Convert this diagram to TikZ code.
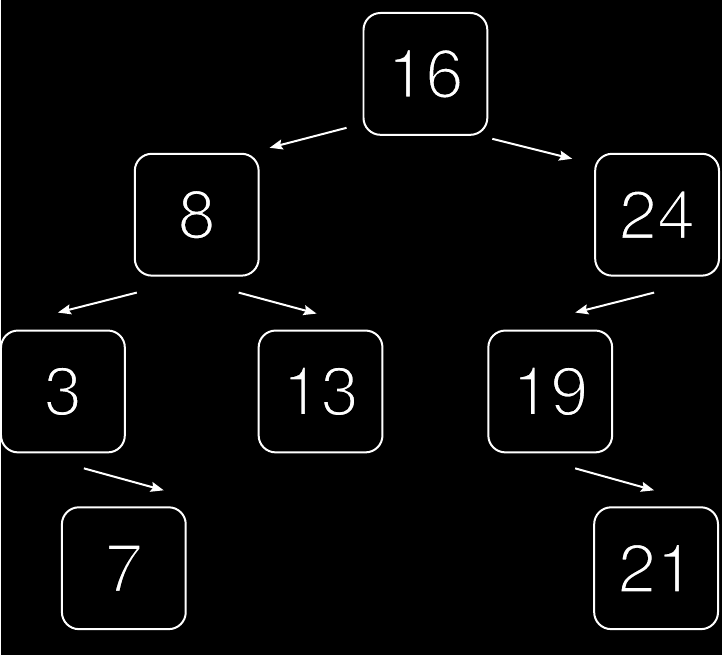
\documentclass[tikz,border=0pt]{standalone}
\usepackage{fontspec}
\setmainfont{TeX Gyre Heros}
\usetikzlibrary{arrows.meta}
\newcommand{\thindigits}[1]{\special{pdf:code q 2 Tr 2.4 w 0 G}#1\special{pdf:code Q}}
\begin{document}
\begin{tikzpicture}[x=1pt,y=-1pt,
  box/.style={draw=white, line width=2pt, fill=black, rounded corners=17pt,
    minimum width=124pt, minimum height=122pt, inner sep=0pt, text=white,
    font=\fontsize{69}{72}\selectfont},
  arr/.style={draw=white, line width=2pt, -{Stealth[length=13pt,width=10pt,inset=2pt]}}]
\fill[black] (0,0) rectangle (722,656);
\node[box] (n16) at (425,74) {\thindigits{16}};
\node[box] (n8)  at (196,215) {\thindigits{8}};
\node[box] (n24) at (657,215) {\thindigits{24}};
\node[box] (n3)  at (62,392) {\thindigits{3}};
\node[box] (n13) at (320,392) {\thindigits{13}};
\node[box] (n19) at (550,392) {\thindigits{19}};
\node[box] (n7)  at (123,569) {\thindigits{7}};
\node[box] (n21) at (656,569) {\thindigits{21}};
\draw[arr] ([shift={(-16,-8)}]n16.south west) -- ([shift={(10,-5)}]n8.north east);
\draw[arr] ([shift={(4,3)}]n16.south east) -- ([shift={(-22,6)}]n24.north west);
\draw[arr] ([shift={(3,16)}]n8.south west) -- ([shift={(-5,-17)}]n3.north);
\draw[arr] ([shift={(-21,16)}]n8.south east) -- ([shift={(-4,-16)}]n13.north);
\draw[arr] ([shift={(-3,16)}]n24.south) -- ([shift={(25,-17)}]n19.north);
\draw[arr] ([shift={(21,15)}]n3.south) -- ([shift={(40,-16)}]n7.north);
\draw[arr] ([shift={(25,15)}]n19.south) -- ([shift={(-2,-16)}]n21.north);
\end{tikzpicture}
\end{document}
